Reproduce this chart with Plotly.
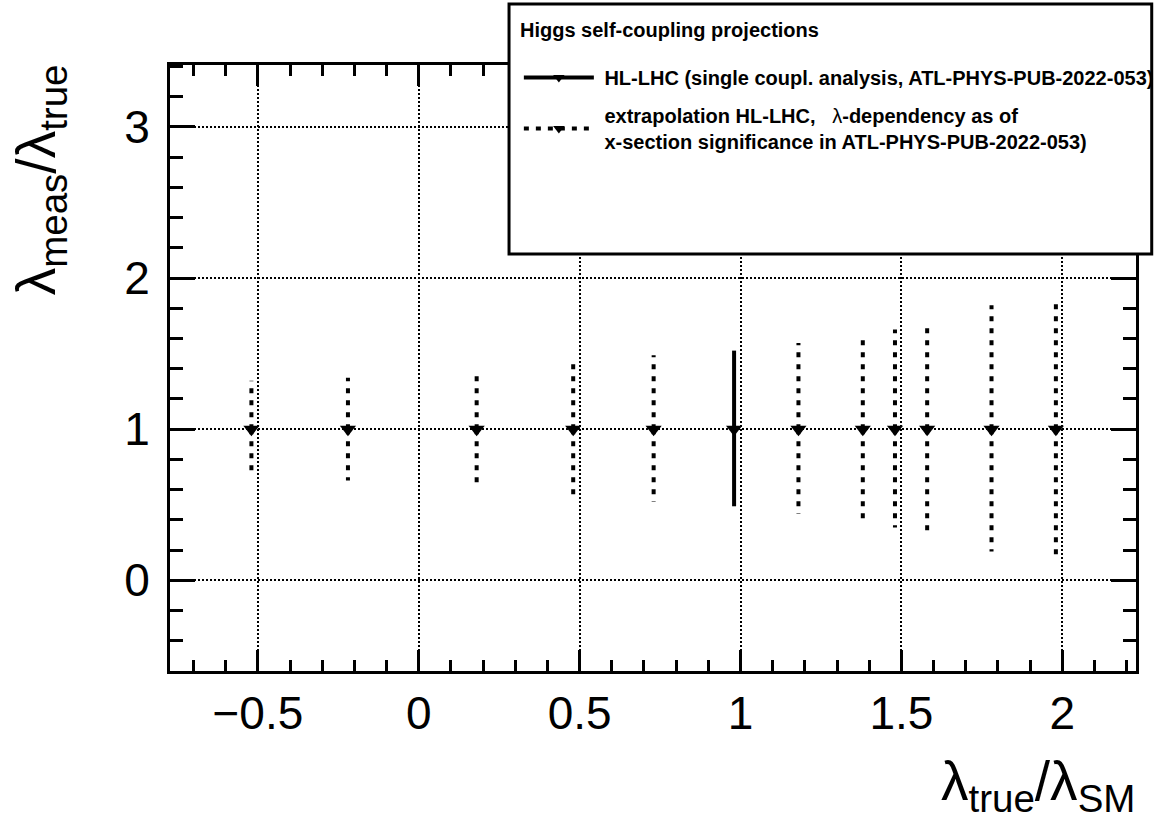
import plotly.graph_objects as go

# ---- data ----
hl_x = [0.98]
hl_val = [1.0]
hl_hi = [1.52]
hl_lo = [0.49]

ext_x = [-0.52, -0.22, 0.18, 0.48, 0.73, 1.18, 1.38, 1.48, 1.58, 1.78, 1.98]
ext_val = [1.0] * 11
ext_hi = [1.32, 1.34, 1.39, 1.45, 1.49, 1.57, 1.63, 1.66, 1.69, 1.82, 1.86]
ext_lo = [0.69, 0.66, 0.62, 0.55, 0.52, 0.44, 0.38, 0.35, 0.31, 0.19, 0.15]

legend_title = "Higgs self-coupling projections"
hl_name = "HL-LHC (single coupl. analysis, ATL-PHYS-PUB-2022-053)"
ext_name_1 = "extrapolation HL-LHC,"
ext_name_2 = "-dependency as of"
ext_name_3 = "x-section significance in ATL-PHYS-PUB-2022-053)"

FONT = "Liberation Sans, Arial, Helvetica, sans-serif"

# figure geometry (pixels)
W, H = 1171, 826
L, R, T, B = 170, 1153, 65, 671


def segs(xs, vs, his, los):
    sx, sy = [], []
    for x, v, h, l in zip(xs, vs, his, los):
        sx += [x, x, None, x, x, None]
        sy += [v, h, None, v, l, None]
    return sx, sy


DASH = "5px,7px"
MS = 14
fig = go.Figure()

ex, ey = segs(ext_x, ext_val, ext_hi, ext_lo)
fig.add_trace(go.Scatter(x=ex, y=ey, mode="lines", showlegend=False,
                         line=dict(color="black", width=4, dash=DASH),
                         hoverinfo="skip"))
hx, hy = segs(hl_x, hl_val, hl_hi, hl_lo)
fig.add_trace(go.Scatter(x=hx, y=hy, mode="lines", showlegend=False,
                         line=dict(color="black", width=4),
                         hoverinfo="skip"))
fig.add_trace(go.Scatter(x=ext_x + hl_x, y=ext_val + hl_val, mode="markers",
                         showlegend=False,
                         marker=dict(symbol="triangle-down", size=MS, color="black")))

SP = "\u00a0"
# legend entries
fig.add_trace(go.Scatter(x=[None], y=[None], mode="lines+markers",
                         legendgroup="hl",
                         name=SP + "<b>" + hl_name + "</b>",
                         line=dict(color="black", width=4),
                         marker=dict(symbol="triangle-down", size=10, color="black")))
fig.add_trace(go.Scatter(x=[None], y=[None], mode="lines+markers",
                         legendgroup="ext",
                         name=SP + "<b>" + ext_name_1 + "</b>" + SP * 3 + "λ<b>" + ext_name_2
                              + "</b><br>" + SP + "<b>" + ext_name_3 + "</b>",
                         line=dict(color="black", width=4, dash=DASH),
                         marker=dict(symbol="triangle-down", size=10, color="black")))


def px_x(p):
    return (p - L) / (R - L)


def px_y(p):
    return (B - p) / (B - T)


axis_common = dict(
    showline=True, linewidth=3, linecolor="black", mirror="allticks",
    ticks="inside", tickwidth=3, tickcolor="black",
    showgrid=True, gridcolor="black", gridwidth=1.5, griddash="2px,2px",
    zeroline=False, tickfont=dict(size=46, color="black", family=FONT),
)

fig.update_xaxes(range=[-0.773, 2.229], tick0=0, dtick=0.5, ticklen=21,
                 ticklabelstandoff=0,
                 minor=dict(dtick=0.1, ticks="inside", ticklen=11, tickwidth=3,
                            tickcolor="black", showgrid=False),
                 **axis_common)
fig.update_yaxes(range=[-0.6, 3.41], tick0=0, dtick=1, ticklen=25,
                 ticklabelstandoff=8,
                 minor=dict(dtick=0.2, ticks="inside", ticklen=13, tickwidth=3,
                            tickcolor="black", showgrid=False),
                 **axis_common)

# legend box
fig.add_shape(type="rect", xref="paper", yref="paper",
              x0=px_x(515), x1=px_x(1169), y0=px_y(254), y1=px_y(4),
              line=dict(color="black", width=3), fillcolor="white", layer="above")

# legend header
fig.add_annotation(xref="paper", yref="paper", x=px_x(524), y=px_y(30),
                   xanchor="left", yanchor="middle", showarrow=False,
                   text="<b>" + legend_title + "</b>",
                   font=dict(size=20, color="black", family=FONT))

# axis titles
fig.add_annotation(xref="paper", yref="paper", x=px_x(1154), y=px_y(785),
                   xanchor="right", yanchor="middle", showarrow=False,
                   text="λ<sub>true</sub>/λ<sub>SM</sub>",
                   font=dict(size=55, color="black", family=FONT))
fig.add_annotation(xref="paper", yref="paper", x=px_x(38), y=px_y(180),
                   xanchor="center", yanchor="middle", showarrow=False,
                   textangle=-90,
                   text="λ<sub>meas</sub>/λ<sub>true</sub>",
                   font=dict(size=55, color="black", family=FONT))

fig.update_layout(
    width=W, height=H,
    margin=dict(l=L, r=W - R, t=T, b=H - B),
    paper_bgcolor="white", plot_bgcolor="white",
    font=dict(family=FONT, color="black"),
    showlegend=True,
    legend=dict(
        x=px_x(525), y=px_y(58), xanchor="left", yanchor="top",
        bgcolor="rgba(0,0,0,0)", borderwidth=0,
        font=dict(size=20, color="black", family=FONT),
        itemwidth=70, valign="middle",
        traceorder="grouped", tracegroupgap=9,
    ),
)

fig.write_html("out.html")
